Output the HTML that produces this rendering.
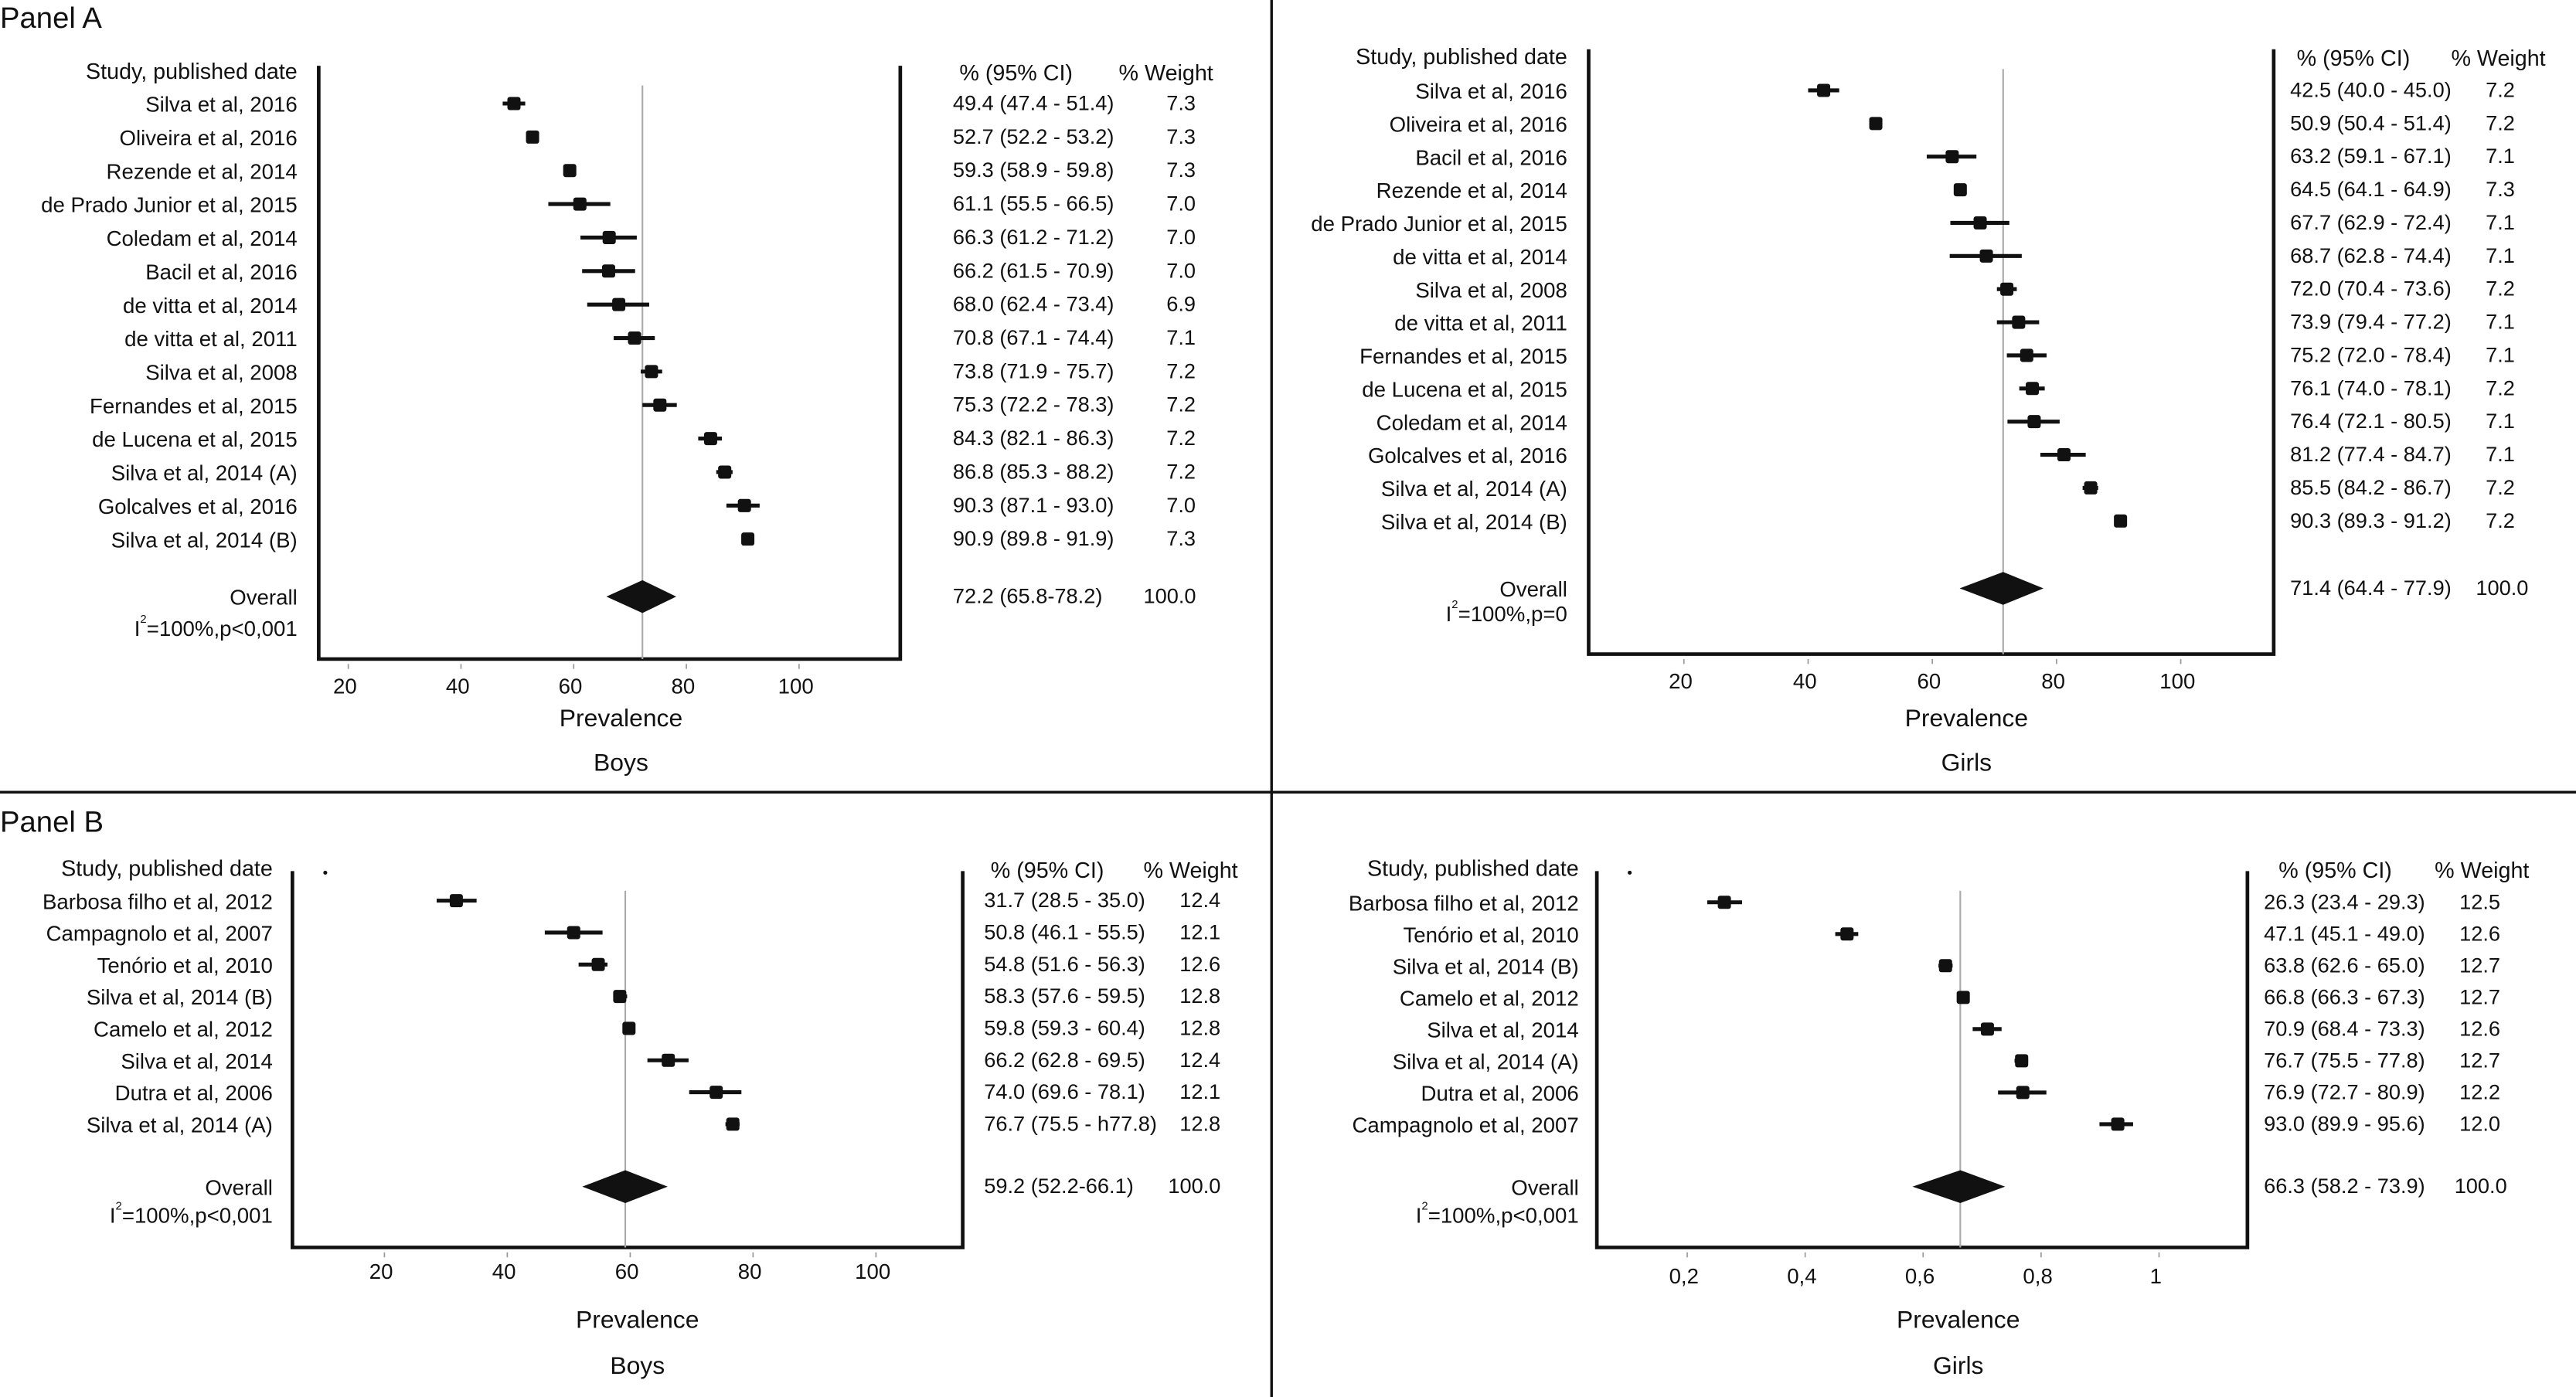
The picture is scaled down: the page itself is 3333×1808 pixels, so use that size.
<!DOCTYPE html>
<html><head><meta charset="utf-8"><style>
html,body{margin:0;padding:0;background:#fff}
svg{display:block}
text{font-family:"Liberation Sans",sans-serif;fill:#111}
</style></head><body>
<svg id="c" width="3333" height="1808" viewBox="0 0 1568 850" preserveAspectRatio="none" xmlns="http://www.w3.org/2000/svg">
<rect width="1568" height="850" fill="#fff"/>
<line x1="774" y1="0" x2="774" y2="850" stroke="#111" stroke-width="1.6"/>
<line x1="0" y1="482" x2="1568" y2="482" stroke="#111" stroke-width="1.6"/>
<text x="0" y="17" font-size="18">Panel A</text>
<text x="0" y="506" font-size="18">Panel B</text>
</svg>
<script>
// Panel A Boys
const aBoysStudies=["Silva et al, 2016","Oliveira et al, 2016","Rezende et al, 2014","de Prado Junior et al, 2015","Coledam et al, 2014","Bacil et al, 2016","de vitta et al, 2014","de vitta et al, 2011","Silva et al, 2008","Fernandes et al, 2015","de Lucena et al, 2015","Silva et al, 2014 (A)","Golcalves et al, 2016","Silva et al, 2014 (B)"];
const aBoysEst=[49.4,52.7,59.3,61.1,66.3,66.2,68.0,70.8,73.8,75.3,84.3,86.8,90.3,90.9];
const aBoysLo=[47.4,52.2,58.9,55.5,61.2,61.5,62.4,67.1,71.9,72.2,82.1,85.3,87.1,89.8];
const aBoysHi=[51.4,53.2,59.8,66.5,71.2,70.9,73.4,74.4,75.7,78.3,86.3,88.2,93.0,91.9];
const aBoysCI=["49.4 (47.4 - 51.4)","52.7 (52.2 - 53.2)","59.3 (58.9 - 59.8)","61.1 (55.5 - 66.5)","66.3 (61.2 - 71.2)","66.2 (61.5 - 70.9)","68.0 (62.4 - 73.4)","70.8 (67.1 - 74.4)","73.8 (71.9 - 75.7)","75.3 (72.2 - 78.3)","84.3 (82.1 - 86.3)","86.8 (85.3 - 88.2)","90.3 (87.1 - 93.0)","90.9 (89.8 - 91.9)"];
const aBoysW=["7.3","7.3","7.3","7.0","7.0","7.0","6.9","7.1","7.2","7.2","7.2","7.2","7.0","7.3"];
const aBoysOverall=[72.2,65.8,78.2];
const aBoysTicks=[20,40,60,80,100];
const aBoysTickLabels=["20","40","60","80","100"];
// Panel A Girls
const aGirlsStudies=["Silva et al, 2016","Oliveira et al, 2016","Bacil et al, 2016","Rezende et al, 2014","de Prado Junior et al, 2015","de vitta et al, 2014","Silva et al, 2008","de vitta et al, 2011","Fernandes et al, 2015","de Lucena et al, 2015","Coledam et al, 2014","Golcalves et al, 2016","Silva et al, 2014 (A)","Silva et al, 2014 (B)"];
const aGirlsEst=[42.5,50.9,63.2,64.5,67.7,68.7,72.0,73.9,75.2,76.1,76.4,81.2,85.5,90.3];
const aGirlsLo=[40.0,50.4,59.1,64.1,62.9,62.8,70.4,70.4,72.0,74.0,72.1,77.4,84.2,89.3];
const aGirlsHi=[45.0,51.4,67.1,64.9,72.4,74.4,73.6,77.2,78.4,78.1,80.5,84.7,86.7,91.2];
const aGirlsCI=["42.5 (40.0 - 45.0)","50.9 (50.4 - 51.4)","63.2 (59.1 - 67.1)","64.5 (64.1 - 64.9)","67.7 (62.9 - 72.4)","68.7 (62.8 - 74.4)","72.0 (70.4 - 73.6)","73.9 (79.4 - 77.2)","75.2 (72.0 - 78.4)","76.1 (74.0 - 78.1)","76.4 (72.1 - 80.5)","81.2 (77.4 - 84.7)","85.5 (84.2 - 86.7)","90.3 (89.3 - 91.2)"];
const aGirlsW=["7.2","7.2","7.1","7.3","7.1","7.1","7.2","7.1","7.1","7.2","7.1","7.1","7.2","7.2"];
const aGirlsOverall=[71.4,64.4,77.9];
const aGirlsTicks=[20,40,60,80,100];
const aGirlsTickLabels=["20","40","60","80","100"];
// Panel B Boys
const bBoysStudies=["Barbosa filho et al, 2012","Campagnolo et al, 2007","Tenório et al, 2010","Silva et al, 2014 (B)","Camelo et al, 2012","Silva et al, 2014","Dutra et al, 2006","Silva et al, 2014 (A)"];
const bBoysEst=[31.7,50.8,54.8,58.3,59.8,66.2,74.0,76.7];
const bBoysLo=[28.5,46.1,51.6,57.6,59.3,62.8,69.6,75.5];
const bBoysHi=[35.0,55.5,56.3,59.5,60.4,69.5,78.1,77.8];
const bBoysCI=["31.7 (28.5 - 35.0)","50.8 (46.1 - 55.5)","54.8 (51.6 - 56.3)","58.3 (57.6 - 59.5)","59.8 (59.3 - 60.4)","66.2 (62.8 - 69.5)","74.0 (69.6 - 78.1)","76.7 (75.5 - h77.8)"];
const bBoysW=["12.4","12.1","12.6","12.8","12.8","12.4","12.1","12.8"];
const bBoysOverall=[59.2,52.2,66.1];
const bBoysTicks=[20,40,60,80,100];
const bBoysTickLabels=["20","40","60","80","100"];
// Panel B Girls
const bGirlsStudies=["Barbosa filho et al, 2012","Tenório et al, 2010","Silva et al, 2014 (B)","Camelo et al, 2012","Silva et al, 2014","Silva et al, 2014 (A)","Dutra et al, 2006","Campagnolo et al, 2007"];
const bGirlsEst=[0.263,0.471,0.638,0.668,0.709,0.767,0.769,0.930];
const bGirlsLo=[0.234,0.451,0.626,0.663,0.684,0.755,0.727,0.899];
const bGirlsHi=[0.293,0.490,0.650,0.673,0.733,0.778,0.809,0.956];
const bGirlsCI=["26.3 (23.4 - 29.3)","47.1 (45.1 - 49.0)","63.8 (62.6 - 65.0)","66.8 (66.3 - 67.3)","70.9 (68.4 - 73.3)","76.7 (75.5 - 77.8)","76.9 (72.7 - 80.9)","93.0 (89.9 - 95.6)"];
const bGirlsW=["12.5","12.6","12.7","12.7","12.6","12.7","12.2","12.0"];
const bGirlsOverall=[0.663,0.582,0.739];
const bGirlsTicks=[0.2,0.4,0.6,0.8,1];
const bGirlsTickLabels=["0,2","0,4","0,6","0,8","1"];

const NS="http://www.w3.org/2000/svg";
const svg=document.getElementById('c');
function mk(tag,attrs,parent){const e=document.createElementNS(NS,tag);for(const k in attrs)e.setAttribute(k,attrs[k]);(parent||svg).appendChild(e);return e;}
function txt(x,y,s,size,anchor,parent){const t=mk('text',{x:x,y:y,'font-size':size,'text-anchor':anchor||'start'},parent);t.textContent=s;return t;}

function panel(id,P,studies,est,lo,hi,ci,w,overall,ticks,tickLabels,i2,title){
  const g=mk('g',{});
  
  
  const X=v=>P.x0+(v-P.v0)*P.k;
  const n=studies.length;
  const Y=i=>P.y0+i*(P.y1-P.y0)/(n-1);
  const f=mk('path',{d:`M${P.fl},${P.ft} V${P.fb} H${P.fr} V${P.ft}`,fill:'none',stroke:'#111','stroke-width':2.2},g);
  
  
  const rl=mk('line',{x1:X(overall[0]),x2:X(overall[0]),y1:P.ft+12,y2:P.fb,stroke:'#aaa','stroke-width':1},g);
  
  
  const h1=txt(P.lab,P.hy,'Study, published date',13.5,'end',g);
  
  
  const h2=txt(P.hci,P.hy+1,'% (95% CI)',13.5,'start',g);
  
  
  const h3=txt(P.hw,P.hy+1,'% Weight',13.5,'start',g);
  
  
  if(P.dot){const d=mk('circle',{cx:P.dot,cy:P.ft+1,r:1.2,fill:'#111'},g);
    
    }
  for(let i=0;i<n;i++){
    const y=Y(i);
    const l=txt(P.lab,y+5,studies[i],13,'end',g);
    
    
    const ln=mk('line',{x1:X(lo[i]),x2:X(hi[i]),y1:y,y2:y,stroke:'#111','stroke-width':2.4},g);
    
    
    const s=mk('rect',{x:X(est[i])-4,y:y-4,width:8,height:8,rx:1.5,fill:'#111'},g);
    
    
    const c=txt(P.ci,y+4,ci[i],12.8,'start',g);
    
    
    const ww=txt(P.w,y+4,w[i],12.8,'start',g);
    
    
  }
  const oy=P.oy;
  const dm=mk('polygon',{points:`${X(overall[1])},${oy} ${X(overall[0])},${oy-10} ${X(overall[2])},${oy} ${X(overall[0])},${oy+10}`,fill:'#111'},g);
  
  
  const ol=txt(P.lab,oy+5,'Overall',13,'end',g);
  
  
  const oc=txt(P.ci,oy+4,P.oci,12.8,'start',g);
  
  
  const ow=txt(P.ow,oy+4,'100.0',12.8,'start',g);
  
  
  const it=mk('text',{x:P.lab,y:P.iy+5,'font-size':13,'text-anchor':'end'},g);
  const i1=mk('tspan',{},it);i1.textContent='I';
  const isub=mk('tspan',{'font-size':7,dy:-8},it);isub.textContent='2';
  const irest=mk('tspan',{dy:8},it);irest.textContent=i2;
  
  
  ticks.forEach((t,i)=>{
    const tk=mk('line',{x1:X(t),x2:X(t),y1:P.fb+3,y2:P.fb+6,stroke:'#999','stroke-width':0.8},g);
    
    
    const tl=txt(X(t)-2,P.ty,tickLabels[i],13,'middle',g);
    
    
  });
  const xt=txt(P.px,P.py,'Prevalence',15,'middle',g);
  
  
  const gt=txt(P.px,P.gy,title,15,'middle',g);
  
  
}

panel('panel-a-boys',{x0:212,v0:20,k:3.43,y0:63,y1:328,fl:194,fr:548,ft:40,fb:401,lab:181,hy:48,hci:584,hw:681,ci:580,w:710,ow:696,oy:363,iy:382,oci:'72.2 (65.8-78.2)',ty:422,px:378,py:442,gy:469},
  aBoysStudies,aBoysEst,aBoysLo,aBoysHi,aBoysCI,aBoysW,aBoysOverall,aBoysTicks,aBoysTickLabels,'=100%,p<0,001','Boys');
panel('panel-a-girls',{x0:1025,v0:20,k:3.78,y0:55,y1:317,fl:967,fr:1384,ft:30,fb:398,lab:954,hy:39,hci:1398,hw:1492,ci:1394,w:1513,ow:1507,oy:358,iy:373,oci:'71.4 (64.4 - 77.9)',ty:419,px:1197,py:442,gy:469},
  aGirlsStudies,aGirlsEst,aGirlsLo,aGirlsHi,aGirlsCI,aGirlsW,aGirlsOverall,aGirlsTicks,aGirlsTickLabels,'=100%,p=0','Girls');
panel('panel-b-boys',{x0:234,v0:20,k:3.74,y0:548,y1:684,fl:178,fr:586,ft:530,fb:759,lab:166,hy:533,hci:603,hw:696,ci:599,w:718,ow:711,oy:722,iy:739,oci:'59.2 (52.2-66.1)',ty:778,px:388,py:808,gy:836,dot:198},
  bBoysStudies,bBoysEst,bBoysLo,bBoysHi,bBoysCI,bBoysW,bBoysOverall,bBoysTicks,bBoysTickLabels,'=100%,p<0,001','Boys');
panel('panel-b-girls',{x0:1027,v0:0.2,k:359,y0:549,y1:684,fl:972,fr:1368,ft:530,fb:759,lab:961,hy:533,hci:1387,hw:1482,ci:1378,w:1497,ow:1494,oy:722,iy:739,oci:'66.3 (58.2 - 73.9)',ty:781,px:1192,py:808,gy:836,dot:992},
  bGirlsStudies,bGirlsEst,bGirlsLo,bGirlsHi,bGirlsCI,bGirlsW,bGirlsOverall,bGirlsTicks,bGirlsTickLabels,'=100%,p<0,001','Girls');
</script>
</body></html>
